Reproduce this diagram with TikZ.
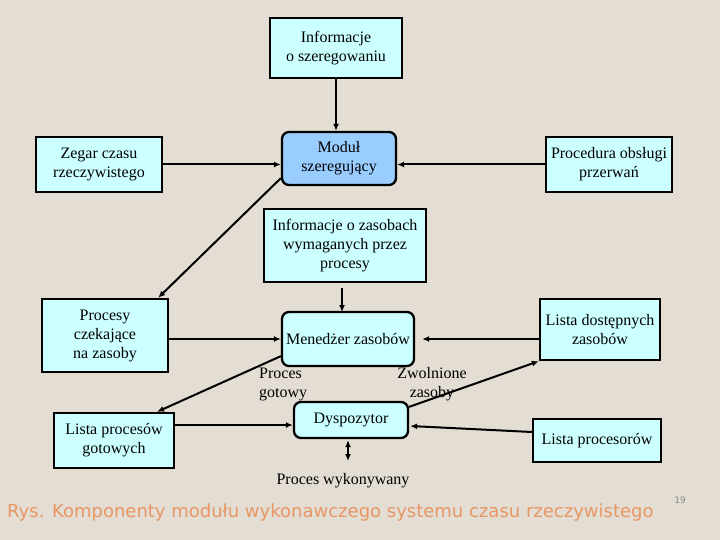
\documentclass[tikz,border=0pt]{standalone}
\usepackage{fontspec}
\setmainfont{Liberation Serif}
\newfontfamily\capfont{DejaVu Sans}
\usetikzlibrary{arrows.meta,calc}
\definecolor{bg}{RGB}{227,221,211}
\definecolor{boxfill}{RGB}{204,255,255}
\definecolor{modfill}{RGB}{153,204,255}
\definecolor{capcol}{RGB}{232,150,100}
\definecolor{pgcol}{RGB}{140,140,140}
\tikzset{
  box/.style={draw=black, line width=2.3pt, fill=boxfill, align=center, inner sep=0pt,
    font=\fontsize{16}{19}\selectfont},
  rbox/.style={box, rounded corners=7pt},
  lbl/.style={align=center, inner sep=0pt, font=\fontsize{16}{19}\selectfont},
  conn/.style={line width=2pt, -{Latex[length=7pt,width=6pt]}},
}
\begin{document}
\begin{tikzpicture}[x=1pt,y=-1pt]
\fill[bg] (0,0) rectangle (720,540);
\useasboundingbox (0,0) rectangle (720,540);

\node[box, minimum width=132, minimum height=60] (info1) at (336,48) {Informacje\\o szeregowaniu};
\node[rbox, fill=modfill, minimum width=114, minimum height=53] (modul) at (339,158.5) {Moduł\\szeregujący};
\node[box, minimum width=126, minimum height=55] (zegar) at (99,164.5) {Zegar czasu\\rzeczywistego};
\node[box, minimum width=126, minimum height=55] (proc) at (609,164.5) {Procedura obsługi\\przerwań};
\node[box, minimum width=162, minimum height=73] (infoz) at (345,245.5) {Informacje o zasobach\\wymaganych przez\\procesy};
\node[box, minimum width=126, minimum height=73] (czek) at (105,335.5) {Procesy\\czekające\\na zasoby};
\node[rbox, minimum width=132, minimum height=54] (men) at (348,339) {Menedżer zasobów};
\node[box, minimum width=120, minimum height=61] (ldost) at (600,329.5) {Lista dostępnych\\zasobów};
\node[rbox, minimum width=114, minimum height=36] (dysp) at (351,420) {Dyspozytor};
\node[box, minimum width=120, minimum height=55] (lgot) at (114,440.5) {Lista procesów\\gotowych};
\node[box, minimum width=128, minimum height=43] (lproc) at (597,440.5) {Lista procesorów};

\node[lbl, align=left, anchor=west] (lgotowy) at (259,384) {Proces\\gotowy};
\node[lbl] (lzwol) at (432,384) {Zwolnione\\zasoby};
\node[lbl] (lwyk) at (343,481) {Proces wykonywany};
\coordinate (wyk) at (348,461);
\coordinate (zs) at (342,288);
\coordinate (ze) at (342,312);

\draw[conn] (info1.south) -- (info1.south |- modul.north);
\draw[conn] (zegar.east) -- (zegar.east -| modul.west);
\draw[conn] (proc.west) -- (proc.west -| modul.east);
\draw[conn] ($(modul.south west)+(0,-8)$) -- ($(czek.north east)+(-11,0)$);
\draw[conn] (zs) -- (ze);
\draw[conn] (czek.east |- men.west) -- (men.west);
\draw[conn] (ldost.west |- men.east) -- ($(men.east)+(7,0)$);
\draw[conn] ($(men.south west)+(0,-11)$) -- ($(lgot.north)+(43,0)$);
\draw[conn] ($(lgot.east |- dysp.west)+(0,5)$) -- ($(dysp.west)+(0,5)$);
\draw[conn] ($(dysp.north east)+(0,6)$) -- (ldost.south west);
\draw[conn] ($(lproc.west)+(0,-8.5)$) -- ($(dysp.east)+(1,6)$);
\draw[line width=2pt, {Latex[length=7pt,width=6pt]}-{Latex[length=7pt,width=6pt]}] ($(dysp.south)+(-3,1)$) -- (wyk);

\node[anchor=west, inner sep=0pt, text=capcol, font=\capfont\fontsize{18}{22}\selectfont] (cap) at (7,513) {Rys. Komponenty modułu wykonawczego systemu czasu rzeczywistego};
\node[inner sep=0pt, text=pgcol, font=\capfont\fontsize{9}{11}\selectfont] (pg) at (680,500) {19};
\end{tikzpicture}
\end{document}
